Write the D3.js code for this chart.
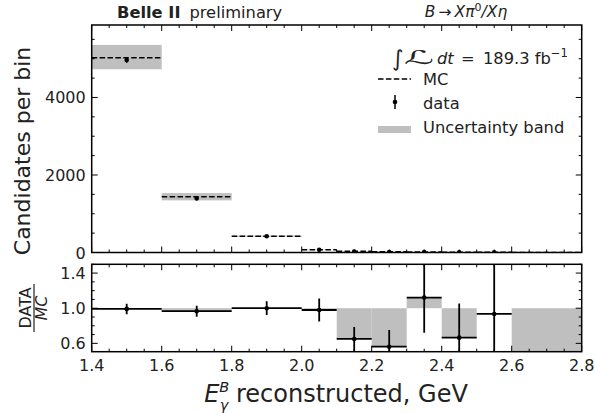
<!DOCTYPE html>
<html>
<head>
<meta charset="utf-8">
<script src="https://cdn.jsdelivr.net/npm/d3@7"></script>
<style>
  body { margin: 0; background: #fff; }
  svg { font-family: "DejaVu Sans", sans-serif; }
</style>
</head>
<body>
<svg id="chart" width="595" height="413"></svg>
<script>
// Bin edges of the reconstructed photon energy (GeV)
const binLo = [1.4, 1.6, 1.8, 2.0, 2.1, 2.2, 2.3, 2.4, 2.5, 2.6];
const binHi = [1.6, 1.8, 2.0, 2.1, 2.2, 2.3, 2.4, 2.5, 2.6, 2.8];
// MC expectation per bin and its uncertainty band
const mcCounts = [5027, 1440, 420, 74, 34, 20, 12, 8, 5, 2];
const mcBandLow = [4728, 1345, 405, 70, 31, 18, 11, 7, 4, 1];
const mcBandHigh = [5355, 1532, 435, 78, 37, 22, 13, 9, 6, 3];
// Observed data per bin
const dataCounts = [4968, 1395, 420, 72, 22, 11, 13, 5, 5, 0];
const dataErr = [71, 37, 20, 8, 5, 3, 4, 2, 2, 0];
// Ratio DATA/MC with errors
const ratio = [0.992, 0.966, 1.0, 0.98, 0.65, 0.562, 1.121, 0.665, 0.935, null];
const ratioErr = [0.06, 0.063, 0.078, 0.13, 0.137, 0.19, 0.40, 0.39, 0.75, null];
// Shaded ratio band (between ratio and unity)
const ratioBandLow = [0.992, 0.966, 1.0, 0.98, 0.65, 0.562, 1.0, 0.665, null, 0.0];
const ratioBandHigh = [1.0, 1.0, 1.0, 1.0, 1.0, 1.0, 1.121, 1.0, null, 1.0];
// Axis ticks
const mainYMajor = [0, 2000, 4000];
const ratioYMajor = [0.6, 1.0, 1.4];
const xMajor = [1.4, 1.6, 1.8, 2.0, 2.2, 2.4, 2.6, 2.8];

const svg = d3.select("#chart");
const L = 91.7, R = 581.7;
const mainTop = 25, mainBot = 252.5;
const ratTop = 264.3, ratBot = 351.7;
const grey = "#bfbfbf";
const tickFont = 16;

const x = d3.scaleLinear().domain([1.4, 2.8]).range([L, R]);
const y = d3.scaleLinear().domain([0, 5870]).range([mainBot, mainTop]);
const yr = d3.scaleLinear().domain([0.505, 1.5]).range([ratBot, ratTop]);

const idx = d3.range(binLo.length);

// ---------- Main panel ----------
const gMain = svg.append("g");
gMain.append("clipPath").attr("id", "clipMain").append("rect")
  .attr("x", L).attr("y", mainTop).attr("width", R - L).attr("height", mainBot - mainTop);
const mainPlot = gMain.append("g").attr("clip-path", "url(#clipMain)");

mainPlot.selectAll("rect.band").data(idx).join("rect")
  .attr("x", i => x(binLo[i])).attr("width", i => x(binHi[i]) - x(binLo[i]))
  .attr("y", i => y(mcBandHigh[i])).attr("height", i => y(mcBandLow[i]) - y(mcBandHigh[i]))
  .attr("fill", grey);

mainPlot.selectAll("line.mc").data(idx).join("line")
  .attr("x1", i => x(binLo[i])).attr("x2", i => x(binHi[i]))
  .attr("y1", i => y(mcCounts[i])).attr("y2", i => y(mcCounts[i]))
  .attr("stroke", "#000").attr("stroke-width", 1.5).attr("stroke-dasharray", "5.5,2.4");

const ptMain = mainPlot.selectAll("g.pt").data(idx.filter(i => dataCounts[i] > 0)).join("g");
ptMain.append("line")
  .attr("x1", i => x((binLo[i] + binHi[i]) / 2)).attr("x2", i => x((binLo[i] + binHi[i]) / 2))
  .attr("y1", i => y(dataCounts[i] - dataErr[i])).attr("y2", i => y(dataCounts[i] + dataErr[i]))
  .attr("stroke", "#000").attr("stroke-width", 1.5);
ptMain.append("circle")
  .attr("cx", i => x((binLo[i] + binHi[i]) / 2)).attr("cy", i => y(dataCounts[i]))
  .attr("r", 2.3).attr("fill", "#000");

// ---------- Ratio panel ----------
const gRat = svg.append("g");
gRat.append("clipPath").attr("id", "clipRat").append("rect")
  .attr("x", L).attr("y", ratTop).attr("width", R - L).attr("height", ratBot - ratTop);
const ratPlot = gRat.append("g").attr("clip-path", "url(#clipRat)");

const bandIdx = idx.filter(i => ratioBandLow[i] !== null);
ratPlot.selectAll("rect.rband").data(bandIdx).join("rect")
  .attr("x", i => x(binLo[i])).attr("width", i => x(binHi[i]) - x(binLo[i]))
  .attr("y", i => yr(ratioBandHigh[i])).attr("height", i => yr(ratioBandLow[i]) - yr(ratioBandHigh[i]))
  .attr("fill", grey);

const rIdx = idx.filter(i => ratio[i] !== null);
const ptR = ratPlot.selectAll("g.rpt").data(rIdx).join("g");
ptR.append("line")
  .attr("x1", i => x(binLo[i])).attr("x2", i => x(binHi[i]))
  .attr("y1", i => yr(ratio[i])).attr("y2", i => yr(ratio[i]))
  .attr("stroke", "#000").attr("stroke-width", 1.8);
ptR.append("line")
  .attr("x1", i => x((binLo[i] + binHi[i]) / 2)).attr("x2", i => x((binLo[i] + binHi[i]) / 2))
  .attr("y1", i => yr(ratio[i] - ratioErr[i])).attr("y2", i => yr(ratio[i] + ratioErr[i]))
  .attr("stroke", "#000").attr("stroke-width", 1.8);
ptR.append("circle")
  .attr("cx", i => x((binLo[i] + binHi[i]) / 2)).attr("cy", i => yr(ratio[i]))
  .attr("r", 2.3).attr("fill", "#000");

// ---------- Ticks (inward, all four sides) ----------
function ticksX(top, bot, showLabels) {
  const minor = d3.range(1.4, 2.8001, 0.05);
  const g = svg.append("g");
  minor.forEach(v => {
    const isMajor = xMajor.some(m => Math.abs(m - v) < 1e-6);
    const len = isMajor ? 6 : 3;
    g.append("line").attr("x1", x(v)).attr("x2", x(v)).attr("y1", bot).attr("y2", bot - len)
      .attr("stroke", "#000").attr("stroke-width", 1);
    g.append("line").attr("x1", x(v)).attr("x2", x(v)).attr("y1", top).attr("y2", top + len)
      .attr("stroke", "#000").attr("stroke-width", 1);
  });
  if (showLabels) {
    xMajor.forEach(v => {
      g.append("text").attr("x", x(v)).attr("y", bot + 19).attr("text-anchor", "middle")
        .attr("font-size", tickFont).attr("fill", "#222").text(d3.format(".1f")(v));
    });
  }
}
function ticksY(scale, minorVals, majorVals, fmt) {
  const g = svg.append("g");
  minorVals.forEach(v => {
    const isMajor = majorVals.some(m => Math.abs(m - v) < 1e-6);
    const len = isMajor ? 6 : 3;
    g.append("line").attr("x1", L).attr("x2", L + len).attr("y1", scale(v)).attr("y2", scale(v))
      .attr("stroke", "#000").attr("stroke-width", 1);
    g.append("line").attr("x1", R).attr("x2", R - len).attr("y1", scale(v)).attr("y2", scale(v))
      .attr("stroke", "#000").attr("stroke-width", 1);
  });
  majorVals.forEach(v => {
    g.append("text").attr("x", L - 6).attr("y", scale(v) + 6).attr("text-anchor", "end")
      .attr("font-size", tickFont).attr("fill", "#222").text(fmt(v));
  });
}
ticksX(mainTop, mainBot, false);
ticksX(ratTop, ratBot, true);
ticksY(y, d3.range(0, 5870, 500), mainYMajor, d3.format("d"));
ticksY(yr, d3.range(0.6, 1.5001, 0.1).map(v => +v.toFixed(2)), ratioYMajor, d3.format(".1f"));

// Frames
[[mainTop, mainBot], [ratTop, ratBot]].forEach(([t, b]) => {
  svg.append("rect").attr("x", L).attr("y", t).attr("width", R - L).attr("height", b - t)
    .attr("fill", "none").attr("stroke", "#000").attr("stroke-width", 1.5);
});

// ---------- Titles ----------
const t1 = svg.append("text").attr("x", 117).attr("y", 18).attr("font-size", 16.3).attr("fill", "#222");
t1.append("tspan").attr("font-weight", "bold").text("Belle II");
t1.append("tspan").attr("dx", 9).text("preliminary");

const t2 = svg.append("text").attr("x", 466).attr("y", 17).attr("font-size", 15.5)
  .attr("text-anchor", "middle").attr("fill", "#222");
t2.append("tspan").attr("font-style", "italic").text("B");
t2.append("tspan").text("\u2009\u2192\u2009");
t2.append("tspan").attr("font-style", "italic").text("X\u03c0");
t2.append("tspan").attr("font-size", 11).attr("dy", -6).text("0");
t2.append("tspan").attr("dy", 6).attr("font-style", "italic").text("/X\u03b7");

// ---------- Legend ----------
const lum = svg.append("text").attr("y", 64).attr("font-size", 16.3).attr("fill", "#222");
lum.append("tspan").attr("x", 392).attr("font-size", 22).attr("dy", 2).text("\u222b");
lum.append("tspan").attr("x", 404).attr("dy", -2).attr("font-style", "italic").attr("font-size", 19)
  .attr("textLength", 30).attr("lengthAdjust", "spacingAndGlyphs").text("\u2112");
lum.append("tspan").attr("x", 437).attr("font-style", "italic").text("dt");
lum.append("tspan").attr("x", 461).text("=");
lum.append("tspan").attr("x", 483).text("189.3 fb");
lum.append("tspan").attr("font-size", 11.5).attr("dy", -7).text("\u22121");

const lg = svg.append("g");
lg.append("line").attr("x1", 378).attr("x2", 411).attr("y1", 79).attr("y2", 79)
  .attr("stroke", "#000").attr("stroke-width", 1.5).attr("stroke-dasharray", "5.5,2.4");
lg.append("text").attr("x", 423).attr("y", 85).attr("font-size", 16.3).attr("fill", "#222").text("MC");
lg.append("line").attr("x1", 395).attr("x2", 395).attr("y1", 95).attr("y2", 109)
  .attr("stroke", "#000").attr("stroke-width", 1.5);
lg.append("circle").attr("cx", 395).attr("cy", 102).attr("r", 2.3).attr("fill", "#000");
lg.append("text").attr("x", 423).attr("y", 108.5).attr("font-size", 16.3).attr("fill", "#222").text("data");
lg.append("rect").attr("x", 378).attr("y", 126).attr("width", 33).attr("height", 7).attr("fill", grey);
lg.append("text").attr("x", 423).attr("y", 132.5).attr("font-size", 16.3).attr("fill", "#222").text("Uncertainty band");

// ---------- Axis labels ----------
svg.append("text").attr("transform", `translate(30,151) rotate(-90)`)
  .attr("text-anchor", "middle").attr("font-size", 22).attr("fill", "#222").text("Candidates per bin");

const fr = svg.append("g").attr("transform", `translate(34,${(ratTop + ratBot) / 2}) rotate(-90)`);
fr.append("text").attr("x", 0).attr("y", -3).attr("text-anchor", "middle").attr("font-size", 16)
  .attr("fill", "#222").text("DATA");
fr.append("line").attr("x1", -24).attr("x2", 24).attr("y1", 0).attr("y2", 0)
  .attr("stroke", "#222").attr("stroke-width", 1.2);
fr.append("text").attr("x", 0).attr("y", 13).attr("text-anchor", "middle").attr("font-size", 16)
  .attr("font-style", "italic").attr("fill", "#222").text("MC");

// x-axis label: E with stacked superscript B and subscript gamma
const xl = svg.append("text").attr("x", 336).attr("y", 401.5).attr("text-anchor", "middle")
  .attr("font-size", 24).attr("fill", "#222");
xl.append("tspan").attr("font-style", "italic").text("E");
xl.append("tspan").attr("font-style", "italic").attr("font-size", 14.5).attr("dy", -9.5).text("B");
xl.append("tspan").attr("font-style", "italic").attr("font-size", 14.5).attr("dx", -9.5).attr("dy", 18).text("\u03b3");
xl.append("tspan").attr("dy", -8.5).text(" reconstructed, GeV");
</script>
</body>
</html>
